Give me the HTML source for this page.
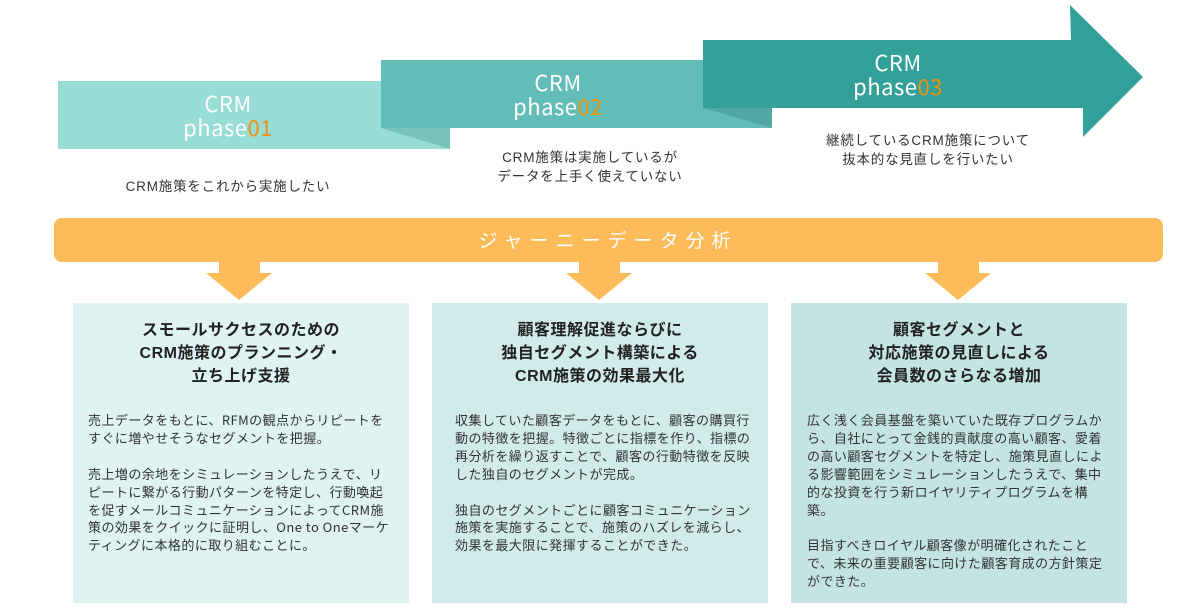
<!DOCTYPE html>
<html><head><meta charset="utf-8"><style>
body{margin:0;width:1200px;height:614px;background:#fff;position:relative;overflow:hidden;font-family:"Liberation Sans","Noto Sans CJK JP",sans-serif;color:#333}
.a{position:absolute;white-space:nowrap}
.ph{color:#fff;font-size:22px;line-height:24px;text-align:center;font-family:"Noto Sans CJK JP","Liberation Sans",sans-serif;letter-spacing:0.5px}
.ph b{font-weight:normal;color:#f0900c}
.d{font-size:13.5px;line-height:19px;text-align:center;letter-spacing:0.8px;color:#333}
.t{font-size:16px;line-height:23px;font-weight:bold;text-align:center;color:#222;letter-spacing:0.5px}
.p{font-family:"Noto Sans CJK JP",sans-serif;font-size:13px;line-height:17.9px;color:#333;letter-spacing:0.45px}
</style></head><body>
<svg class="a" style="left:0;top:0" width="1200" height="614">
<rect x="58" y="81" width="392" height="68" fill="#98dcd6"/>
<polygon points="381,128 450,128 450,149" fill="#77c2bb"/>
<rect x="381" y="60" width="391" height="68" fill="#62bcb7"/>
<polygon points="703,108 772,108 772,128" fill="#53a7a2"/>
<polygon points="703,40 1071,40 1070,5 1143,77 1083,137 1083,108 703,108" fill="#33a099"/>
<rect x="54" y="218" width="1109" height="44" rx="8" fill="#fdbb5a"/>
<polygon points="219,262 260,262 260,273 272,273 239,300 206,273 219,273" fill="#fdbb5a"/>
<polygon points="579,262 620,262 620,273 632,273 599,300 566,273 579,273" fill="#fdbb5a"/>
<polygon points="938,262 979,262 979,273 991,273 958,300 925,273 938,273" fill="#fdbb5a"/>
<rect x="73" y="303" width="336" height="300" fill="#dff3f2"/>
<rect x="432" y="303" width="336" height="300" fill="#d1ebeb"/>
<rect x="791" y="303" width="336" height="300" fill="#c4e4e4"/>
</svg>
<div class="a ph" style="left:128px;width:200px;top:91px">CRM<br>phase<b>01</b></div>
<div class="a ph" style="left:458px;width:200px;top:70px">CRM<br>phase<b>02</b></div>
<div class="a ph" style="left:798px;width:200px;top:50px">CRM<br>phase<b>03</b></div>
<div class="a d" style="left:78px;width:300px;top:177px">CRM施策をこれから実施したい</div>
<div class="a d" style="left:440px;width:300px;top:148px">CRM施策は実施しているが<br>データを上手く使えていない</div>
<div class="a d" style="left:778px;width:300px;top:131px">継続しているCRM施策について<br>抜本的な見直しを行いたい</div>
<div class="a" style="left:408px;width:400px;top:227px;text-align:center;color:#fff;font-size:19px;line-height:26px;letter-spacing:7px;font-family:'Noto Sans CJK JP',sans-serif">ジャーニーデータ分析</div>
<div class="a t" style="left:73px;width:336px;top:319px">スモールサクセスのための<br>CRM施策のプランニング・<br>立ち上げ支援</div>
<div class="a t" style="left:432px;width:336px;top:319px">顧客理解促進ならびに<br>独自セグメント構築による<br>CRM施策の効果最大化</div>
<div class="a t" style="left:791px;width:336px;top:319px">顧客セグメントと<br>対応施策の見直しによる<br>会員数のさらなる増加</div>
<div class="a p" style="left:88px;top:411px">売上データをもとに、RFMの観点からリピートを<br>すぐに増やせそうなセグメントを把握。<br><br>売上増の余地をシミュレーションしたうえで、リ<br>ピートに繋がる行動パターンを特定し、行動喚起<br>を促すメールコミュニケーションによってCRM施<br>策の効果をクイックに証明し、One to Oneマーケ<br>ティングに本格的に取り組むことに。</div>
<div class="a p" style="left:455px;top:411px">収集していた顧客データをもとに、顧客の購買行<br>動の特徴を把握。特徴ごとに指標を作り、指標の<br>再分析を繰り返すことで、顧客の行動特徴を反映<br>した独自のセグメントが完成。<br><br>独自のセグメントごとに顧客コミュニケーション<br>施策を実施することで、施策のハズレを減らし、<br>効果を最大限に発揮することができた。</div>
<div class="a p" style="left:807px;top:411px">広く浅く会員基盤を築いていた既存プログラムか<br>ら、自社にとって金銭的貢献度の高い顧客、愛着<br>の高い顧客セグメントを特定し、施策見直しによ<br>る影響範囲をシミュレーションしたうえで、集中<br>的な投資を行う新ロイヤリティプログラムを構<br>築。<br><br>目指すべきロイヤル顧客像が明確化されたこと<br>で、未来の重要顧客に向けた顧客育成の方針策定<br>ができた。</div>
</body></html>
